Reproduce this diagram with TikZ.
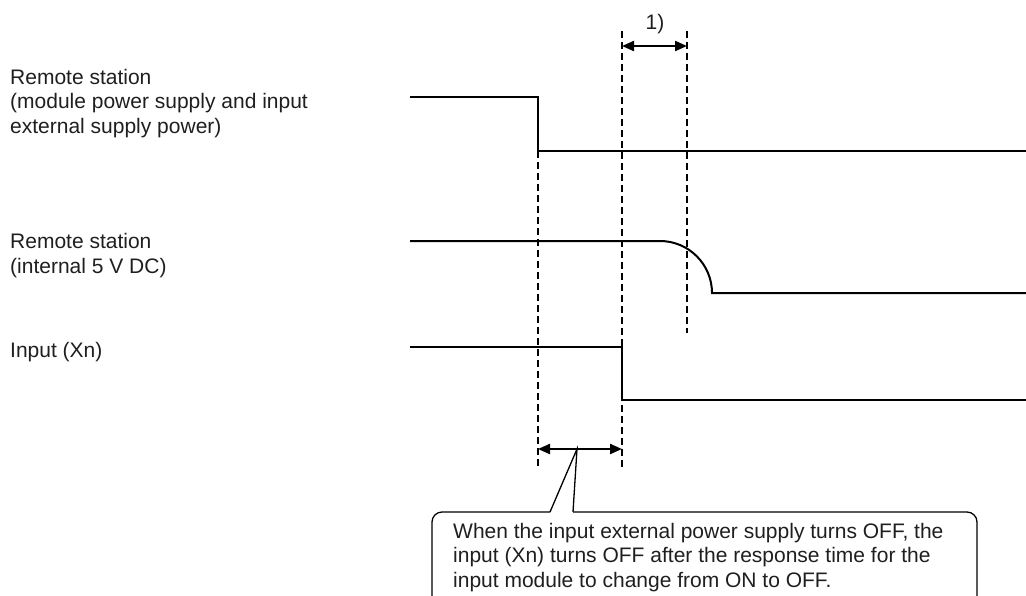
\documentclass[tikz,border=0pt]{standalone}
\usepackage{fontspec}
\setmainfont{Liberation Sans}
\usetikzlibrary{arrows.meta}
\begin{document}
\begin{tikzpicture}[x=1pt,y=-1pt,
  sig/.style={line width=2pt, line join=miter},
  guide/.style={line width=1.1pt, dash pattern=on 7pt off 4pt},
  dimarrow/.style={line width=2.2pt, {Triangle[length=12pt,width=10pt]}-{Triangle[length=12pt,width=10pt]}},
  lbl/.style={font=\fontsize{21}{24.5}\selectfont, inner sep=0pt, align=left, anchor=base west, text=black!88},
  callout/.style={line width=1.3pt, line join=miter}]
\useasboundingbox (0,0) rectangle (1026,595);
\clip (0,0) rectangle (1026,595);

% labels (anchor = baseline of last line)
\node[lbl] (l1) at (10,133) {Remote station\\(module power supply and input\\external supply power)};
\node[lbl] (l2) at (10,273) {Remote station\\(internal 5 V DC)};
\node[lbl] (l3) at (10,357) {Input (Xn)};

% signal 1
\coordinate (s1a) at (410,97);
\coordinate (s1b) at (538,97);
\coordinate (s1c) at (538,151);
\coordinate (s1d) at (1026,151);
\draw[sig] (s1a) -- (s1b) -- (s1c) -- (s1d);

% signal 2
\coordinate (s2a) at (410,241);
\coordinate (s2b) at (660,241);
\coordinate (s2c) at (712,293);
\coordinate (s2d) at (1026,293);
\draw[sig] (s2a) -- (s2b) .. controls (688.7,241) and (712,264.3) .. (s2c) -- (s2d);

% signal 3
\coordinate (s3a) at (410,347);
\coordinate (s3b) at (622,347);
\coordinate (s3c) at (622,400);
\coordinate (s3d) at (1026,400);
\draw[sig] (s3a) -- (s3b) -- (s3c) -- (s3d);

% guide lines
\coordinate (g1t) at (538,151);
\coordinate (g1b) at (538,466);
\coordinate (g2t) at (622,31);
\coordinate (g2b) at (622,468);
\coordinate (g3t) at (687,31);
\coordinate (g3b) at (687,333);
\draw[guide] (g1t) -- (g1b);
\draw[guide] (g2t) -- (g2b);
\draw[guide] (g3t) -- (g3b);

% dimension arrows
\coordinate (d1a) at (622,46);
\coordinate (d1b) at (687,46);
\draw[dimarrow] (d1a) -- (d1b);
\node[lbl, anchor=base] (one) at (655,29) {1)};

\coordinate (d2a) at (538,449);
\coordinate (d2b) at (622,449);
\draw[dimarrow] (d2a) -- (d2b);

% callout
\coordinate (tip) at (577,449);
\coordinate (pl) at (550,512);
\coordinate (pr) at (573,512);
\draw[callout, rounded corners=10pt] (pl) -- (432,512) -- (432,640) -- (977,640) -- (977,512) -- (pr);
\draw[callout] (pl) -- (tip) -- (pr);
\node[lbl] (note) at (453,587) {When the input external power supply turns OFF, the\\input (Xn) turns OFF after the response time for the\\input module to change from ON to OFF.};
\end{tikzpicture}
\end{document}
